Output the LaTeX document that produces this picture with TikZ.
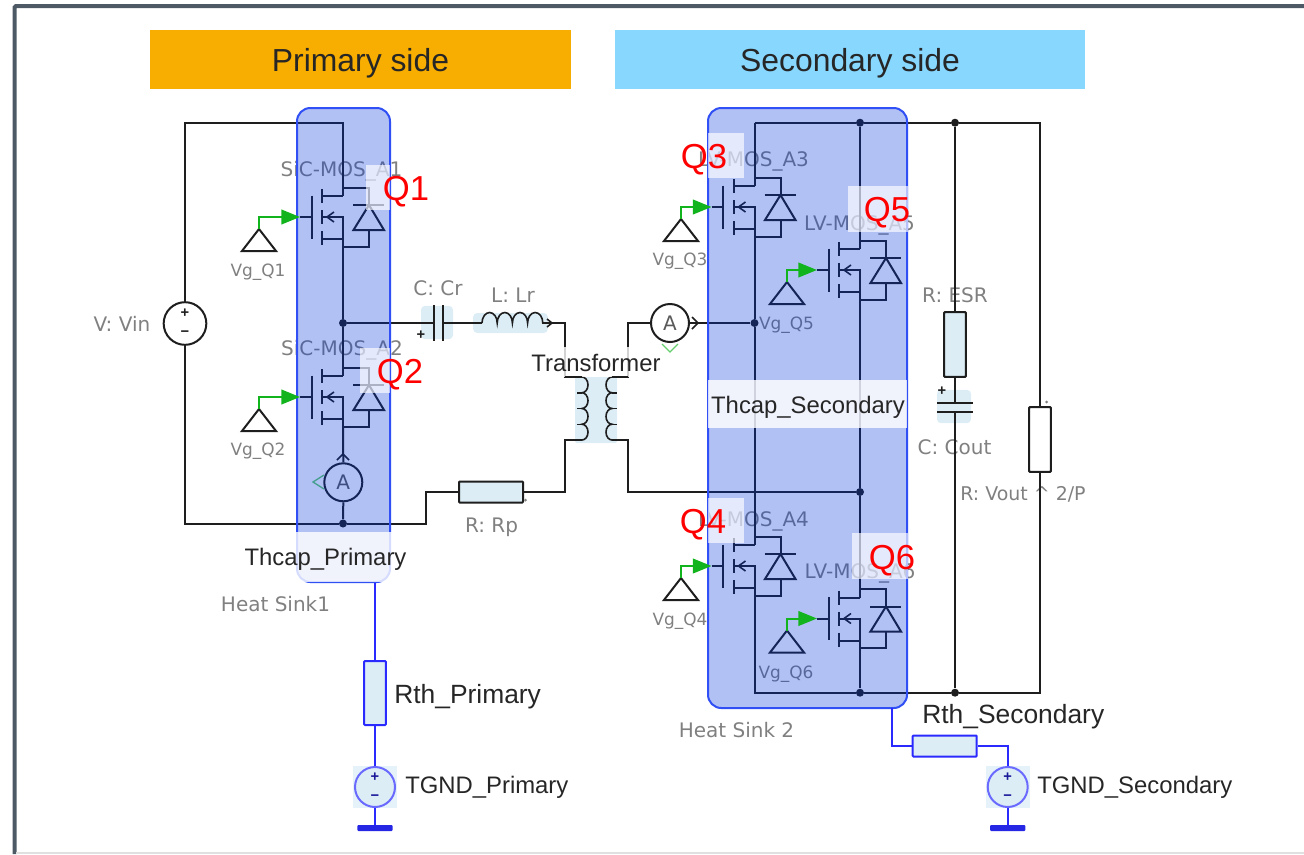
\documentclass[tikz,border=0pt]{standalone}
\usepackage{fontspec}
\setmainfont{Liberation Sans}
\newfontfamily\guifont{DejaVu Sans}
\usetikzlibrary{arrows.meta}
\definecolor{wirecol}{HTML}{1E1E1E}
\definecolor{labelgray}{HTML}{808080}
\definecolor{txtdark}{HTML}{262626}
\definecolor{boxblue}{HTML}{DCEDF6}
\definecolor{sinkblue}{RGB}{0,50,220}
\definecolor{sinkedge}{HTML}{3050F5}
\definecolor{thermblue}{HTML}{2A2AFF}
\definecolor{gatecol}{HTML}{12B41E}
\definecolor{framecol}{HTML}{4D5A66}
\tikzset{
  wire/.style={draw=wirecol,line width=1.5pt},
  thermal/.style={draw=thermblue,line width=1.5pt},
  gatewire/.style={draw=gatecol,line width=1.5pt,-{Triangle[length=14pt,width=11pt]}},
  probe/.style={draw=gatecol!65,line width=1pt},
  dot/.style={circle,fill=wirecol,inner sep=0pt,minimum size=6pt},
  guitext/.style={text=labelgray,font=\guifont\fontsize{15}{15}\selectfont,inner sep=0pt},
  modtext/.style={guitext,yshift=-2.25pt},
  vgtext/.style={text=labelgray,font=\guifont\fontsize{12.7}{13}\selectfont,inner sep=0pt,yshift=-2.25pt},
  darktext/.style={text=txtdark,font=\fontsize{17.9}{18}\selectfont,inner sep=0pt,yshift=-2.25pt},
  rthtext/.style={text=txtdark,font=\fontsize{19.8}{20}\selectfont,inner sep=0pt,yshift=-2.25pt},
  headtext/.style={text=txtdark,font=\fontsize{23.9}{24}\selectfont,inner sep=0pt,yshift=-2.25pt},
  qtext/.style={text=red,font=\fontsize{26}{26}\selectfont,inner sep=0pt,yshift=-2.25pt},
  resistor/.style={wire,fill=boxblue,rounded corners=0.6pt,inner sep=0pt},
  thres/.style={thermal,fill=boxblue,rounded corners=0.6pt,inner sep=0pt},
  compbox/.style={fill=boxblue,rounded corners=3pt,inner sep=0pt},
  sink/.style={draw=sinkedge,line width=1.5pt,fill=sinkblue,fill opacity=0.3,rounded corners=10pt,inner sep=0pt},
  veil/.style={fill=white,fill opacity=0.65,inner sep=0pt},
  meter/.style={circle,wire,fill=white,inner sep=0pt,minimum size=28.5pt,text=labelgray!70!black,font=\guifont\fontsize{15}{15}\selectfont},
  mosfet/.pic={
    \coordinate (-D) at (0,29.5);
    \coordinate (-S) at (0,-29.5);
    \coordinate (-G) at (-43,0);
    \draw[wire] (-43,0) -- (-31.5,0);
    \draw[wire] (-31.5,21.5) -- (-31.5,-21.5);
    \draw[wire] (-21,28) -- (-21,14);
    \draw[wire] (-21,7) -- (-21,-7);
    \draw[wire] (-21,-14) -- (-21,-28);
    \draw[wire] (-21,21) -- (0,21);
    \draw[wire] (-21,-22) -- (0,-22);
    \draw[wire] (-21,0) -- (0,0) -- (0,-22);
    \draw[wire] (0,29.5) -- (0,21);
    \draw[wire] (0,-22) -- (0,-29.5);
    \draw[wire,line width=1.2pt] (-9,5) -- (-16,0) -- (-9,-5);
    \draw[wire] (0,29.5) -- (26,29.5) -- (26,12);
    \draw[wire] (26,-13) -- (26,-29.5) -- (0,-29.5);
    \draw[wire] (10,12) -- (41,12);
    \draw[wire] (10.5,-13) -- (26,12) -- (41,-13) -- cycle;
  },
  vgsource/.pic={
    \coordinate (-T) at (0,11);
    \draw[wire] (-17,-11) -- (0,11) -- (17,-11) -- cycle;
  },
}
\begin{document}
\begin{tikzpicture}[x=0.75pt,y=0.75pt]
    \useasboundingbox (0,0) rectangle (1304,-854);
    \draw [framecol,line width=3pt,rounded corners=1pt] (1304,-6) -- (14.5,-6) -- (14.5,-854);
    \draw [black!12,line width=1.2pt] (16,-853) -- (1304,-853);

    \node [fill={rgb,255:red,248;green,174;blue,0},minimum width=315.75pt,minimum height=44.25pt,inner sep=0pt] (PrimBar) at (360.5,-59.5) {};
    \node [fill={rgb,255:red,135;green,215;blue,255},minimum width=352.5pt,minimum height=44.25pt,inner sep=0pt] (SecBar) at (850,-59.5) {};
    \node [headtext] (PrimText) at (360.5,-60) {Primary side};
    \node [headtext] (SecText) at (850,-60) {Secondary side};

    \node [modtext] (SiC1) at (341.5,-168) {SiC-MOS\_A1};
    \node [modtext] (SiC2) at (342,-347) {SiC-MOS\_A2};
    \node [modtext] (LV3) at (753.5,-158) {LV-MOS\_A3};
    \node [modtext] (LV5) at (859.5,-222) {LV-MOS\_A5};
    \node [modtext] (LV4) at (753.5,-518) {LV-MOS\_A4};
    \node [modtext] (LV6) at (860,-570) {LV-MOS\_A6};
    \node [vgtext] (VgT1) at (258,-269) {Vg\_Q1};
    \node [vgtext] (VgT2) at (258,-448) {Vg\_Q2};
    \node [vgtext] (VgT3) at (680,-258) {Vg\_Q3};
    \node [vgtext] (VgT4) at (680,-618) {Vg\_Q4};
    \node [vgtext] (VgT5) at (786.5,-322) {Vg\_Q5};
    \node [vgtext] (VgT6) at (786,-671) {Vg\_Q6};
    \node [guitext] (VinT) at (122,-324) {V: Vin};
    \node [guitext] (CrT) at (438,-288) {C: Cr};
    \node [guitext] (LrT) at (513,-295) {L: Lr};
    \node [guitext] (RpT) at (491.5,-527.5) {R: Rp};
    \node [guitext] (ESRT) at (955,-295) {R: ESR};
    \node [guitext] (CoutT) at (954.5,-447.5) {C: Cout};
    \node [guitext,font=\guifont\fontsize{14.2}{15}\selectfont] (LoadT) at (1023,-494.5) {R: Vout \^{} 2/P};
    \node [guitext] (HS1T) at (275.5,-604) {Heat Sink1};
    \node [guitext] (HS2T) at (736.5,-730) {Heat Sink 2};

    \node [dot] (J1) at (343,-323) {};
    \node [dot] (J2) at (343,-523.5) {};
    \node [dot] (J3) at (754.5,-323) {};
    \node [dot] (J5) at (860,-492) {};
    \node [dot] (J6) at (860,-122.7) {};
    \node [dot] (J7) at (955,-122.7) {};
    \node [dot] (J8) at (955,-692.7) {};
    \node [dot] (J9) at (860,-692.7) {};
    \coordinate (CT1) at (343,-123);
    \coordinate (CT3) at (754.5,-122.7);
    \coordinate (CB4) at (754.5,-692.7);

    \pic (Q1) at (343,-217) {mosfet};
    \pic (Q2) at (343,-397) {mosfet};
    \pic (Q3) at (754.5,-207) {mosfet};
    \pic (Q4) at (754.5,-566) {mosfet};
    \pic (Q5) at (860,-270) {mosfet};
    \pic (Q6) at (860,-618.5) {mosfet};

    \pic (Vg1) at (259,-240) {vgsource};
    \pic (Vg2) at (259,-420) {vgsource};
    \pic (Vg3) at (681,-230) {vgsource};
    \pic (Vg4) at (681,-589) {vgsource};
    \pic (Vg5) at (787,-293) {vgsource};
    \pic (Vg6) at (787,-641.5) {vgsource};

    \node [circle,wire,fill=white,inner sep=0pt,minimum size=32pt] (Vin) at (185,-323.5) {};
    \node [text=wirecol,inner sep=0pt,font=\bfseries\fontsize{11}{11}\selectfont] (VinP) at (185,-313) {+};
    \node [text=wirecol,inner sep=0pt,font=\bfseries\fontsize{11}{11}\selectfont] (VinM) at (185,-334) {−};
    \node [meter] (A1) at (343.3,-482.3) {A};
    \node [meter] (A2) at (670,-323) {A};
    \draw [wire] (Vin.north) |- (CT1) -- (Q1-D);
    \draw [wire] (Q1-S) -- (J1) -- (Q2-D);
    \draw [wire] (Q2-S) -- (A1.north);
    \draw [wire] (A1.south) -- (J2);
    \draw [wire] (Vin.south) |- (J2);
    \draw [wire,line width=1.2pt] (337,-460) -- (343,-454) -- (349,-460);
    \draw [probe] (324,-475) -- (313,-482) -- (324,-489);
    \draw [probe] (662,-344) -- (670,-352) -- (678,-344);
    \draw [wire,line width=1.2pt] (692,-317) -- (698,-323) -- (692,-329);

    \node [compbox,minimum width=24pt,minimum height=25pt] (Cr) at (437,-322.5) {};
    \coordinate (CrL) at (434,-323);
    \coordinate (CrR) at (443,-323);
    \draw [wire] (434,-305) -- (434,-341);
    \draw [wire] (443,-305) -- (443,-341);
    \node [text=wirecol,inner sep=0pt,font=\bfseries\fontsize{11}{11}\selectfont] (CrP) at (421,-335.5) {+};
    \node [compbox,minimum width=56pt,minimum height=15pt] (Lr) at (510.5,-323) {};
    \coordinate (LrA) at (482,-323);
    \draw [wire] (J1) -- (CrL);
    \draw [wire] (CrR) -- (LrA);
    \draw [wire,line width=1.2pt] (LrA) arc [start angle=180,end angle=0,x radius=7.6,y radius=10.5] arc [start angle=180,end angle=0,x radius=7.6,y radius=10.5] arc [start angle=180,end angle=0,x radius=7.6,y radius=10.5] arc [start angle=180,end angle=0,x radius=7.6,y radius=10.5] -- (Lr.east);
    \draw [wire,line width=1.2pt] (547,-319) -- (552,-323) -- (547,-327);

    \node [compbox,rounded corners=1pt,minimum width=31.5pt,minimum height=49.5pt] (Tr) at (596,-410) {};
    \coordinate (T1a) at (582,-377);
    \coordinate (T1b) at (582,-440);
    \coordinate (T2a) at (612,-377);
    \coordinate (T2b) at (612,-440);
    \draw [wire,line width=1.2pt] (T1a) arc [start angle=90,end angle=-90,x radius=6,y radius=7.875] arc [start angle=90,end angle=-90,x radius=6,y radius=7.875] arc [start angle=90,end angle=-90,x radius=6,y radius=7.875] arc [start angle=90,end angle=-90,x radius=6,y radius=7.875];
    \draw [wire,line width=1.2pt] (T2a) arc [start angle=90,end angle=270,x radius=6,y radius=7.875] arc [start angle=90,end angle=270,x radius=6,y radius=7.875] arc [start angle=90,end angle=270,x radius=6,y radius=7.875] arc [start angle=90,end angle=270,x radius=6,y radius=7.875];
    \draw [wire,line width=1.2pt] (577,-393) -- (582,-393) (577,-408.5) -- (582,-408.5) (577,-424.5) -- (582,-424.5);
    \draw [wire,line width=1.2pt] (612,-393) -- (617,-393) (612,-408.5) -- (617,-408.5) (612,-424.5) -- (617,-424.5);

    \node [resistor,minimum width=48pt,minimum height=15.75pt] (Rp) at (491,-492) {};
    \fill [labelgray] (525.5,-500) circle (1.5);
    \draw [wire] (Lr.east) -- ++(17,0) |- (T1a);
    \draw [wire] (T1b) -- ++(-17,0) |- (Rp.east);
    \draw [wire] (Rp.west) -- ++(-32,0) |- (J2);
    \draw [wire] (T2a) -- ++(16,0) |- (A2.west);
    \draw [wire] (T2b) -- ++(16,0) |- (J5);
    \draw [wire] (A2.east) -- (J3);

    \draw [wire] (CT3) -- (J6) -- (J7);
    \draw [wire] (CT3) -- (Q3-D);
    \draw [wire] (Q3-S) -- (J3) -- (Q4-D);
    \draw [wire] (Q4-S) -- (CB4) -- (J9) -- (J8);
    \draw [wire] (J6) -- (Q5-D);
    \draw [wire] (Q5-S) -- (J5) -- (Q6-D);
    \draw [wire] (Q6-S) -- (J9);

    \node [resistor,minimum width=16.25pt,minimum height=48.5pt] (ESR) at (955,-344.5) {};
    \node [compbox,minimum width=25.5pt,minimum height=25pt] (Cout) at (954,-406.5) {};
    \coordinate (CoutA) at (955,-403);
    \coordinate (CoutB) at (955,-412);
    \draw [wire] (937,-403) -- (973,-403);
    \draw [wire] (937,-412) -- (973,-412);
    \node [text=wirecol,inner sep=0pt,font=\bfseries\fontsize{11}{11}\selectfont] (CoutP) at (942,-391) {+};
    \draw [wire] (J7) -- (ESR.north);
    \draw [wire] (ESR.south) -- (CoutA);
    \draw [wire] (CoutB) -- (J8);
    \node [resistor,fill=white,minimum width=16.25pt,minimum height=48.5pt] (RL) at (1040,-439.5) {};
    \fill [labelgray] (1046.7,-402) circle (1.5);
    \draw [wire] (J7) -| (RL.north);
    \draw [wire] (RL.south) |- (J8);

    \node [sink,minimum width=69.75pt,minimum height=355.5pt] (HS1) at (343.5,-345) {};
    \node [sink,minimum width=149.25pt,minimum height=450pt] (HS2) at (807.5,-408) {};

    \draw [gatewire] (Vg1-T) |- (Q1-G);
    \draw [gatewire] (Vg2-T) |- (Q2-G);
    \draw [gatewire] (Vg3-T) |- (Q3-G);
    \draw [gatewire] (Vg4-T) |- (Q4-G);
    \draw [gatewire] (Vg5-T) |- (Q5-G);
    \draw [gatewire] (Vg6-T) |- (Q6-G);

    \node [thres,minimum width=16.25pt,minimum height=48pt] (RthP) at (375,-693) {};
    \node [thres,minimum width=48pt,minimum height=15.75pt] (RthS) at (944.7,-746) {};
    \node [fill=boxblue!70,minimum width=33pt,minimum height=31pt,inner sep=0pt] (TBoxP) at (375,-787) {};
    \node [fill=boxblue!70,minimum width=33pt,minimum height=31pt,inner sep=0pt] (TBoxS) at (1007.7,-787) {};
    \node [circle,draw=thermblue!70,line width=1.5pt,fill=boxblue,inner sep=0pt,minimum size=30pt] (TgndP) at (375,-787) {};
    \node [circle,draw=thermblue!70,line width=1.5pt,fill=boxblue,inner sep=0pt,minimum size=30pt] (TgndS) at (1007.7,-787) {};
    \node [text=thermblue!60!black,inner sep=0pt,font=\bfseries\fontsize{11}{11}\selectfont] (TpP) at (375,-777) {+};
    \node [text=thermblue!60!black,inner sep=0pt,font=\bfseries\fontsize{11}{11}\selectfont] (TmP) at (375,-798) {−};
    \node [text=thermblue!60!black,inner sep=0pt,font=\bfseries\fontsize{11}{11}\selectfont] (TpS) at (1007.7,-777) {+};
    \node [text=thermblue!60!black,inner sep=0pt,font=\bfseries\fontsize{11}{11}\selectfont] (TmS) at (1007.7,-798) {−};
    \node [fill=thermblue!90!black,rounded corners=0.8pt,minimum width=26.5pt,minimum height=4.5pt,inner sep=0pt] (GndP) at (375,-828) {};
    \node [fill=thermblue!90!black,rounded corners=0.8pt,minimum width=26.5pt,minimum height=4.5pt,inner sep=0pt] (GndS) at (1007.7,-828) {};
    \coordinate (THS2) at (892,-708);
    \draw [thermal] (HS1.south -| RthP.north) -- (RthP.north);
    \draw [thermal] (RthP.south) -- (TgndP.north);
    \draw [thermal] (TgndP.south) -- (GndP.north);
    \draw [thermal] (THS2) |- (RthS.west);
    \draw [thermal] (RthS.east) -| (TgndS.north);
    \draw [thermal] (TgndS.south) -- (GndS.north);

    \node [veil,minimum width=18pt,minimum height=33.75pt] (VQ1) at (378,-187.5) {};
    \node [veil,minimum width=22.5pt,minimum height=33.75pt] (VQ2) at (375,-370.5) {};
    \node [veil,minimum width=27pt,minimum height=33.75pt] (VQ3) at (726,-155.5) {};
    \node [veil,minimum width=27pt,minimum height=33.75pt] (VQ4) at (725.5,-520.5) {};
    \node [veil,minimum width=45pt,minimum height=34.5pt] (VQ5) at (878,-209) {};
    \node [veil,minimum width=42pt,minimum height=34.5pt] (VQ6) at (880,-556) {};
    \node [veil,fill opacity=0.8,minimum width=122pt,minimum height=37.5pt] (VThP) at (325.5,-557) {};
    \node [veil,fill opacity=0.8,minimum width=149.25pt,minimum height=36pt] (VThS) at (807.5,-404) {};
    \node [veil,fill opacity=0.8,minimum width=97.5pt,minimum height=22.5pt] (VTr) at (596,-362) {};
    \draw [wire] (565,-377) -- (T1a);
    \draw [wire] (628,-377) -- (T2a);

    \node [darktext] (ThP) at (325.5,-556) {Thcap\_Primary};
    \node [darktext] (ThS) at (808,-404) {Thcap\_Secondary};
    \node [darktext,yshift=2.25pt] (TrT) at (596,-363) {Transformer};
    \node [rthtext,anchor=west] (RthPT) at (394,-694) {Rth\_Primary};
    \node [rthtext,anchor=west] (RthST) at (922,-714) {Rth\_Secondary};
    \node [darktext,anchor=west] (TgPT) at (405,-784) {TGND\_Primary};
    \node [darktext,anchor=west] (TgST) at (1037,-784) {TGND\_Secondary};

    \node [qtext] (LQ1) at (406,-189) {Q1};
    \node [qtext] (LQ2) at (400,-372) {Q2};
    \node [qtext] (LQ3) at (704,-157) {Q3};
    \node [qtext] (LQ4) at (703,-522) {Q4};
    \node [qtext] (LQ5) at (887,-210) {Q5};
    \node [qtext] (LQ6) at (892,-558) {Q6};
    \end{tikzpicture}
\end{document}
